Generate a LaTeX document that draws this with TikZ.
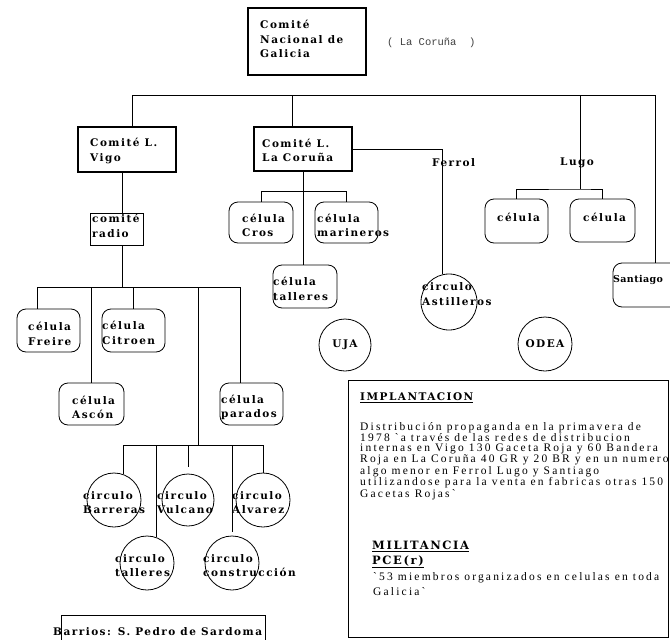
\documentclass[tikz,border=0pt]{standalone}
\usepackage{fontspec}
\usetikzlibrary{calc}
\newfontfamily\labfont{DejaVu Serif}[LetterSpace=14]
\newfontfamily\santfont{DejaVu Serif}[LetterSpace=4]
\newfontfamily\parafont{Liberation Serif}[LetterSpace=19]
\newfontfamily\thinfont{Liberation Mono}
\tikzset{
  heavybox/.style={draw, line width=1.7pt, inner sep=0pt},
  thinbox/.style={draw, line width=0.8pt, inner sep=0pt},
  cell/.style={draw, line width=0.8pt, rounded corners=9pt, inner sep=0pt},
  circ/.style={draw, circle, line width=0.8pt, inner sep=0pt},
  lab/.style={font=\labfont\bfseries\fontsize{10.5}{14.5}\selectfont, inner sep=0pt, anchor=west, align=left},
  para/.style={font=\parafont\fontsize{11.5}{10}\selectfont, inner sep=0pt, anchor=west, align=left},
  conn/.style={line width=0.8pt},
}
\begin{document}
\begin{tikzpicture}[x=1pt,y=-1pt]
\useasboundingbox (0,0) rectangle (670,640);
\fill[white] (0,0) rectangle (670,640);
\clip (0,0) rectangle (670,640);

% ---- shapes ----
\node[heavybox, minimum width=118, minimum height=67] (nac) at (307,41.5) {};
\node[heavybox, minimum width=98, minimum height=45] (vigo) at (127,149.5) {};
\node[heavybox, minimum width=98, minimum height=44] (lacor) at (303,149) {};
\node[thinbox, minimum width=53, minimum height=32] (radio) at (116.5,229) {};

\node[cell, minimum width=64, minimum height=41] (cros) at (261,222.5) {};
\node[cell, minimum width=63, minimum height=41] (mar) at (346.5,222.5) {};
\node[cell, minimum width=64, minimum height=43] (tall) at (305,286.5) {};
\node[cell, minimum width=63, minimum height=44] (lugoa) at (516.5,221) {};
\node[cell, minimum width=65, minimum height=43] (lugob) at (602.5,220.5) {};
\node[cell, minimum width=66, minimum height=44] (sant) at (646,285) {};

\node[cell, minimum width=63, minimum height=43] (freire) at (48.5,330.5) {};
\node[cell, minimum width=63, minimum height=43] (citroen) at (133.5,330.5) {};
\node[cell, minimum width=65, minimum height=42] (ascon) at (91.5,404) {};
\node[cell, minimum width=63, minimum height=42] (parados) at (251.5,404) {};

\node[circ, minimum size=52, font=\labfont\bfseries\fontsize{10.5}{12}\selectfont] (uja) at (345,345) {UJA};
\node[circ, minimum size=56] (ast) at (449,302) {};
\node[circ, minimum size=54, font=\labfont\bfseries\fontsize{10.5}{12}\selectfont] (odea) at (545,344) {ODEA};

\node[circ, minimum size=54] (bar) at (114,500) {};
\node[circ, minimum size=52] (vul) at (188,500) {};
\node[circ, minimum size=54] (alv) at (263,500) {};
\node[circ, minimum size=54] (tal) at (147,563) {};
\node[circ, minimum size=54] (con) at (232,563) {};

\node[thinbox, line width=1pt, minimum width=320, minimum height=257] (impl) at (508,508.5) {};
\node[thinbox, minimum width=204, minimum height=36] (barrios) at (163,633) {};

% ---- texts ----
\node[lab] (tnac) at (260,39) {Comité\\Nacional de\\Galicia};
\node[font=\thinfont\fontsize{10.5}{12}\selectfont, inner sep=0pt, anchor=west, text=black!75] (tlc) at (387,43) {( La Coruña\ \ )};
\node[lab] (tvigo) at (90,151) {Comité L.\\Vigo};
\node[lab] (tlacor) at (262,150.5) {Comité L.\\La Coruña};
\node[lab] (tradio) at (92,226) {comité\\radio};
\node[lab] (tferrol) at (432,163) {Ferrol};
\node[lab] (tlugo) at (560,163) {Lugo};

\node[lab] (tcros) at (242,225.5) {célula\\Cros};
\node[lab] (tmar) at (317,225.5) {célula\\marineros};
\node[lab] (ttall) at (273,289) {célula\\talleres};
\node[lab] (tlugoa) at (497,217) {célula};
\node[lab] (tlugob) at (583,217) {célula};
\node[lab, font=\santfont\bfseries\fontsize{9.5}{12}\selectfont] (tsant) at (613,280) {Santiago};
\node[lab] (tast) at (422,294) {circulo\\Astilleros};

\node[lab] (tfreire) at (28,334) {célula\\Freire};
\node[lab] (tcitroen) at (102,333) {célula\\Citroen};
\node[lab] (tascon) at (72,407.5) {célula\\Ascón};
\node[lab] (tparados) at (221,407.5) {célula\\parados};

\node[lab] (tbar) at (83,502.5) {circulo\\Barreras};
\node[lab] (tvul) at (157,502.5) {circulo\\Vulcano};
\node[lab] (talv) at (232,502.5) {circulo\\Alvarez};
\node[lab] (ttal) at (115,565.5) {circulo\\talleres};
\node[lab] (tcon) at (203,565.5) {circulo\\construcción};

\node[lab] (timpl) at (360,398) {\underline{IMPLANTACION}};
\node[para] (tpara) at (360,461) {Distribución propaganda en la primavera de\\
1978 `a través de las redes de distribucion\\
internas en Vigo 130 Gaceta Roja y 60 Bandera\\
Roja  en La Coruña 40 GR y 20 BR y en un numero\\
algo menor en Ferrol  Lugo y Santiago\\
utilizandose para la venta en fabricas otras 150\\
Gacetas Rojas`};
\node[lab, font=\labfont\bfseries\fontsize{11.5}{15}\selectfont] (tmil) at (372,554.5) {\underline{MILITANCIA}\\\underline{PCE(r)}};
\node[para, font=\parafont\fontsize{11.5}{15}\selectfont] (tquote) at (373,584.5) {`53 miembros organizados en celulas en toda\\Galicia`};
\node[lab, font=\labfont\bfseries\fontsize{10.5}{12}\selectfont] (tbarrios) at (53,632) {Barrios: S. Pedro de Sardoma};

% ---- connectors ----
\coordinate (busL) at (132,95);
\coordinate (busR) at (655,95);
\coordinate (bLC) at (292,95);
\coordinate (bLu) at (580,95);
\draw[conn] ($(nac.south)+(6,0)$) -- ($(nac.south)+(6,0)$ |- busL);
\draw[conn] (busL) -- (busR);
\draw[conn] (busL) -- (busL |- vigo.north);
\draw[conn] (bLC) -- (bLC |- lacor.north);
\draw[conn] (busR) -- (busR |- sant.north);

% Lugo
\coordinate (luJ) at (580,189);
\draw[conn] (bLu) -- (luJ);
\draw[conn] (lugoa.north) |- (luJ) -| (lugob.north);

% Ferrol
\draw[conn] (lacor.east) -| (ast.103);

% La Coruna cells
\path (lacor.south) ++(0,20) coordinate (lcJ);
\draw[conn] (lacor.south) -- (lacor.south |- tall.north);
\draw[conn] (cros.north) |- (lcJ) -| (mar.north);

% Vigo
\coordinate (vJ) at (122,287);
\coordinate (vbL) at (37,287);
\coordinate (vbR) at (240,287);
\coordinate (vL) at (198,287);
\coordinate (cbJ) at (198,445);
\draw[conn] (vigo.south -| vJ) -- (radio.north -| vJ);
\draw[conn] (radio.south -| vJ) -- (vJ);
\draw[conn] (vbL) -- (vbR);
\draw[conn] (vbL) -- (vbL |- freire.north);
\draw[conn] (vbR) -- (vbR |- parados.north);
\draw[conn] (ascon.north |- vbL) -- (ascon.north);
\draw[conn] (citroen.north |- vbL) -- (citroen.north);
\draw[conn] (vL) -- (cbJ);

% circulos
\draw[conn] (bar.70 |- cbJ) -- (alv.north |- cbJ);
\draw[conn] (bar.70 |- cbJ) -- (bar.70);
\draw[conn] (vul.north |- cbJ) -- ($(vul.north)+(0,-7)$);
\draw[conn] (alv.north |- cbJ) -- (alv.north);
\draw[conn] (tal.70 |- cbJ) -- (tal.70);
\draw[conn] (con.north |- cbJ) -- ($(con.north)+(0,-4)$);
\end{tikzpicture}
\end{document}
